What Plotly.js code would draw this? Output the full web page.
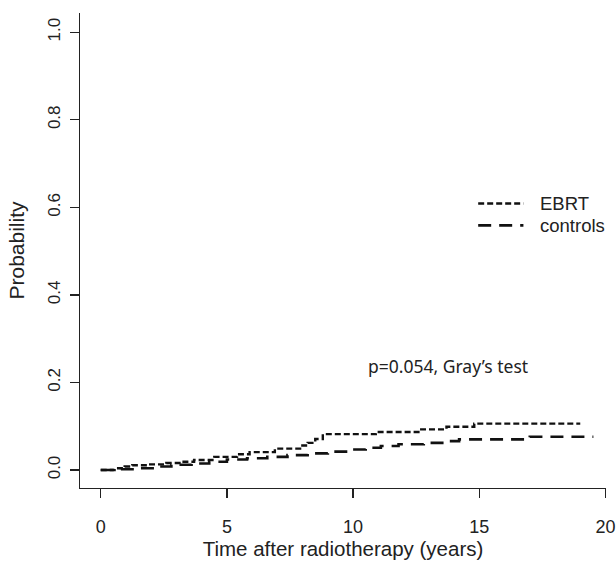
<!DOCTYPE html>
<html>
<head>
<meta charset="utf-8">
<script src="https://cdn.plot.ly/plotly-3.0.1.min.js"></script>
<style>html,body{margin:0;padding:0;background:#fff;}#chart{width:616px;height:561px;}</style>
</head>
<body>
<div id="chart"></div>
<script>
// EBRT cumulative incidence (step function)
var ebrtTime = [0, 0.55, 0.95, 1.25, 1.9, 2.6, 3.2, 3.7, 4.5, 5.4, 5.9, 6.9, 7.9, 8.2, 8.5, 8.8, 10.9, 12.7, 13.7, 14.8, 19.0];
var ebrtProb = [0, 0.004, 0.008, 0.011, 0.013, 0.016, 0.019, 0.023, 0.030, 0.036, 0.041, 0.049, 0.056, 0.062, 0.071, 0.082, 0.087, 0.093, 0.099, 0.106, 0.106];
// Controls cumulative incidence (step function)
var ctrlTime = [0, 0.8, 1.5, 2.2, 2.8, 3.6, 4.3, 5.0, 5.8, 6.6, 7.4, 8.2, 9.0, 9.8, 10.5, 11.1, 11.8, 12.8, 13.6, 14.2, 17.0, 19.52];
var ctrlProb = [0, 0.002, 0.004, 0.008, 0.012, 0.015, 0.019, 0.024, 0.027, 0.030, 0.034, 0.038, 0.042, 0.047, 0.051, 0.055, 0.059, 0.062, 0.066, 0.070, 0.076, 0.076];

var xTicks = [0, 5, 10, 15, 20];
var yTicks = [0, 0.2, 0.4, 0.6, 0.8, 1.0];
var yTickText = ["0.0", "0.2", "0.4", "0.6", "0.8", "1.0"];
var seriesNames = ["EBRT", "controls"];
var pText = "p=0.054, Gray’s test";

var FONT = "Liberation Sans, Arial, sans-serif";

var traces = [
  {x: ebrtTime, y: ebrtProb, name: seriesNames[0], type: "scatter", mode: "lines",
   line: {shape: "hv", color: "#111", width: 2.4, dash: "6px,3px"}, showlegend: false},
  {x: ctrlTime, y: ctrlProb, name: seriesNames[1], type: "scatter", mode: "lines",
   line: {shape: "hv", color: "#111", width: 2.6, dash: "13px,8px"}, showlegend: false}
];

var layout = {
  width: 616, height: 561,
  margin: {l: 80, r: 10, t: 13, b: 73},
  paper_bgcolor: "#fff", plot_bgcolor: "#fff",
  font: {family: FONT, color: "#222", size: 17},
  showlegend: false,
  xaxis: {
    range: [-0.82, 20.02], showgrid: false, zeroline: false,
    showline: true, linecolor: "#222", linewidth: 1.3,
    ticks: "outside", ticklen: 9, tickwidth: 1.3, tickcolor: "#222",
    tickvals: xTicks, ticktext: xTicks.map(String),
    tickfont: {family: FONT, size: 18, color: "#222"},
    ticklabelstandoff: 13,
    title: {text: "Time after radiotherapy (years)", font: {family: FONT, size: 20.5, color: "#222"}, standoff: 2}
  },
  yaxis: {
    range: [-0.041, 1.044], showgrid: false, zeroline: false,
    showline: true, linecolor: "#222", linewidth: 1.3,
    ticks: "outside", ticklen: 9, tickwidth: 1.3, tickcolor: "#222",
    tickvals: yTicks, ticktext: yTickText, tickangle: -90,
    tickfont: {family: FONT, size: 17, color: "#222"},
    ticklabelstandoff: 3,
    title: {text: "Probability", font: {family: FONT, size: 21, color: "#222"}, standoff: 14}
  },
  shapes: [
    {type: "line", xref: "paper", yref: "paper", x0: 0.757, x1: 0.843, y0: 0.599, y1: 0.599,
     line: {color: "#111", width: 2.4, dash: "6px,3px"}},
    {type: "line", xref: "paper", yref: "paper", x0: 0.757, x1: 0.843, y0: 0.553, y1: 0.553,
     line: {color: "#111", width: 2.6, dash: "13px,8px"}}
  ],
  annotations: [
    {xref: "paper", yref: "paper", x: 0.871, y: 0.599, xanchor: "left", yanchor: "middle",
     text: seriesNames[0], showarrow: false, font: {family: FONT, size: 18.5, color: "#222"}},
    {xref: "paper", yref: "paper", x: 0.871, y: 0.553, xanchor: "left", yanchor: "middle",
     text: seriesNames[1], showarrow: false, font: {family: FONT, size: 18.5, color: "#222"}},
    {xref: "x", yref: "y", x: 13.77, y: 0.238, xanchor: "center", yanchor: "middle",
     text: pText, showarrow: false, font: {family: "Noto Sans, sans-serif", size: 17.5, color: "#222"}}
  ]
};

Plotly.newPlot("chart", traces, layout, {displayModeBar: false, staticPlot: true});
</script>
</body>
</html>
